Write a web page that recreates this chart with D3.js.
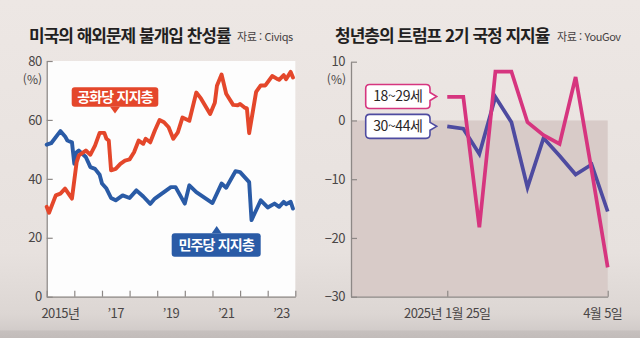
<!DOCTYPE html>
<html lang="ko">
<head>
<meta charset="utf-8">
<script src="https://cdn.jsdelivr.net/npm/d3@7"></script>
<style>
  html, body { margin: 0; padding: 0; background: #ebe5e2; }
  svg { display: block; }
  text { font-family: "Noto Sans CJK KR", "Noto Sans", sans-serif; }
</style>
</head>
<body>
<svg id="chart" width="640" height="338"></svg>
<script>
// ---- Left panel: support for non-intervention in foreign affairs (Civiqs) ----
const gopMonths = ["2015-01","2015-02","2015-05","2015-07","2015-09","2015-11","2015-12","2016-02","2016-03","2016-06",
  "2016-08","2016-10","2016-12","2017-02","2017-03","2017-04","2017-05","2017-07","2017-09","2017-11",
  "2018-01","2018-03","2018-05","2018-07","2018-08","2018-10","2018-12","2019-02","2019-04","2019-06",
  "2019-08","2019-10","2019-12","2020-03","2020-06","2020-08","2020-12","2021-02","2021-03","2021-05",
  "2021-07","2021-10","2021-12","2022-01","2022-03","2022-04","2022-05","2022-08","2022-10","2022-12",
  "2023-03","2023-05","2023-06","2023-08","2023-09","2023-11","2023-12"];
const gopValues = [30.5,28.5,34.4,35,36.7,34.4,33.3,45.7,48,49.6,
  48.2,51.3,55.6,55.6,53.6,53,42.9,43.4,45.1,46.2,
  46.6,49,53,51.9,53.6,52.4,56.4,60,59.2,57.5,
  53.6,55.8,60.8,59.7,69.3,67.3,62,65.8,71.6,75.4,
  68.9,65.1,65,65.4,64.2,63.9,55.5,69.5,71.7,71.7,
  74.9,74,73.6,75.2,73.8,76.3,74.4];

const demMonths = ["2015-01","2015-03","2015-07","2015-09","2015-10","2015-12","2016-01","2016-02","2016-03","2016-06",
  "2016-08","2016-10","2016-12","2017-01","2017-03","2017-05","2017-07","2017-10","2018-01","2018-04",
  "2018-07","2018-10","2018-12","2019-07","2019-09","2020-01","2020-03","2020-06","2021-01","2021-05",
  "2021-07","2021-11","2022-01","2022-05","2022-06","2022-10","2023-01","2023-04","2023-06","2023-08",
  "2023-09","2023-11","2023-12"];
const demValues = [51.6,52.1,56.2,54.4,53,52.4,45.1,49,49.6,47.4,
  44,43.4,41.4,38.4,36.7,33.5,32.7,34.4,33.5,36.1,
  34,31.5,33.3,37.2,37.2,31.6,37.8,35.5,31.8,38.4,
  37,42.6,42.3,38.9,26,32.7,30.3,31.6,30.5,32.2,
  31.4,32.2,29.9];

const leftTicksY = [0, 20, 40, 60, 80];
const leftYears = [2015, 2016, 2017, 2018, 2019, 2020, 2021, 2022, 2023, 2024];
const leftYearLabels = [[2015, "2015년"], [2017, "’17"], [2019, "’19"], [2021, "’21"], [2023, "’23"]];

// ---- Right panel: young adults' net approval of Trump's second term (YouGov) ----
const pollDates = ["2025-01-25","2025-02-01","2025-02-08","2025-02-15","2025-02-22","2025-03-01",
  "2025-03-08","2025-03-15","2025-03-22","2025-03-29","2025-04-05"];
const age18to29 = [4, 4, -18.2, 8.3, 8.3, -0.3, -2.5, -4, 7.4, -8.5, -25];
const age30to44 = [-1, -1.4, -5.7, 4, -0.3, -11.4, -3, -6, -9.2, -7.5, -15.5];
const rightTicksY = [10, 0, -10, -20, -30];
const rightTickDates = [["2025-01-25", "2025년 1월 25일"], ["2025-04-05", "4월 5일"]];

const C = {
  gop: "#e4472b", dem: "#2a5ba6",
  young: "#d6357f", mid: "#4e4ba0",
  axis: "#8d8886", tick: "#4a4646", title: "#231f1f"
};

const svg = d3.select("#chart");
const W = 640, H = 338;

// page background with a slightly darker bottom band
const defs = svg.append("defs");
const bg = defs.append("linearGradient").attr("id", "bg").attr("x1", 0).attr("y1", 0).attr("x2", 0).attr("y2", 1);
[[0, "#ede7e4"], [0.75, "#e7e1de"], [0.93, "#dcd6d3"], [0.975, "#d2ccca"], [0.98, "#c6c0be"], [1, "#c2bcba"]]
  .forEach(([o, c]) => bg.append("stop").attr("offset", o).attr("stop-color", c));
svg.append("rect").attr("width", W).attr("height", H).attr("fill", "url(#bg)");

const parseMonth = d3.timeParse("%Y-%m");
const parseDay = d3.timeParse("%Y-%m-%d");

// ================= left panel =================
const xL = d3.scaleTime().domain([new Date(2015, 0, 1), new Date(2024, 0, 1)]).range([46.7, 295.3]);
const yL = d3.scaleLinear().domain([0, 80]).range([296.7, 61]);

svg.append("rect")
  .attr("x", xL.range()[0]).attr("y", yL(80))
  .attr("width", xL.range()[1] - xL.range()[0]).attr("height", yL(0) - yL(80))
  .attr("fill", "#fdfdfd");

const axL = svg.append("g").attr("transform", `translate(${xL.range()[0]},0)`)
  .call(d3.axisLeft(yL).tickValues(leftTicksY).tickSize(-6).tickSizeOuter(0).tickPadding(5));
const axB = svg.append("g").attr("transform", `translate(0,${yL(0)})`)
  .call(d3.axisBottom(xL).tickValues(leftYears.map(y => new Date(y, 0, 1))).tickSize(-6).tickSizeOuter(0).tickFormat(""));

svg.selectAll(".lyl").data(leftYearLabels).join("text")
  .attr("x", d => xL(new Date(d[0], 6, 1)))
  .attr("y", 318)
  .attr("text-anchor", "middle")
  .attr("font-size", 13).attr("letter-spacing", -0.6)
  .attr("fill", C.tick)
  .text(d => d[1]);

svg.append("text").attr("x", 42).attr("y", 84).attr("text-anchor", "end")
  .attr("font-size", 12).attr("fill", C.tick).text("(%)");

const lineL = d3.line().x(d => xL(d.t)).y(d => yL(d.v)).curve(d3.curveLinear);
const gopSeries = gopMonths.map((m, i) => ({ t: parseMonth(m), v: gopValues[i] }));
const demSeries = demMonths.map((m, i) => ({ t: parseMonth(m), v: demValues[i] }));

svg.append("path").datum(demSeries).attr("d", lineL)
  .attr("fill", "none").attr("stroke", C.dem).attr("stroke-width", 3.9)
  .attr("stroke-linejoin", "round").attr("stroke-linecap", "round");
svg.append("path").datum(gopSeries).attr("d", lineL)
  .attr("fill", "none").attr("stroke", C.gop).attr("stroke-width", 3.9)
  .attr("stroke-linejoin", "round").attr("stroke-linecap", "round");

// series call-outs
function calloutBox(x0, x1, y0, y1, tipX, tipY, pointer, fill, label) {
  const g = svg.append("g");
  g.append("rect").attr("x", x0).attr("y", y0).attr("width", x1 - x0).attr("height", y1 - y0)
    .attr("rx", 3).attr("fill", fill);
  const baseY = pointer === "down" ? y1 : y0;
  g.append("path").attr("d", `M${tipX - 5},${baseY} L${tipX},${tipY} L${tipX + 5},${baseY} Z`).attr("fill", fill);
  g.append("text").attr("x", (x0 + x1) / 2).attr("y", (y0 + y1) / 2 + 5)
    .attr("text-anchor", "middle").attr("font-size", 14).attr("font-weight", 700)
    .attr("letter-spacing", -0.8).attr("fill", "#ffffff").text(label);
}
calloutBox(71.7, 158.3, 87.3, 106.7, 115, 113.5, "down", C.gop, "공화당 지지층");
calloutBox(171.7, 260.7, 233.3, 256.7, 216.7, 226, "up", C.dem, "민주당 지지층");

// ================= right panel =================
const xR = d3.scaleTime().domain([new Date(2024, 11, 14), new Date(2025, 3, 5)]).range([351, 607.7]);
const yR = d3.scaleLinear().domain([-30, 10]).range([296.7, 61.7]);

svg.append("rect")
  .attr("x", xR.range()[0]).attr("y", yR(0))
  .attr("width", xR.range()[1] - xR.range()[0]).attr("height", yR(-30) - yR(0))
  .attr("fill", "#d8cbc8");

const axR = svg.append("g").attr("transform", `translate(${xR.range()[0]},0)`)
  .call(d3.axisLeft(yR).tickValues(rightTicksY).tickSize(-6).tickSizeOuter(0).tickPadding(6)
    .tickFormat(d => d < 0 ? "−" + Math.abs(d) : String(d)));
const axRB = svg.append("g").attr("transform", `translate(0,${yR(-30)})`)
  .call(d3.axisBottom(xR).tickValues(rightTickDates.map(d => parseDay(d[0]))).tickSize(-6).tickSizeOuter(0).tickFormat(""));

svg.selectAll(".rxl").data(rightTickDates).join("text")
  .attr("x", d => xR(parseDay(d[0])) - (d[1].length < 6 ? 5 : 0))
  .attr("y", 318)
  .attr("text-anchor", "middle")
  .attr("font-size", 13).attr("letter-spacing", -0.6)
  .attr("fill", C.tick)
  .text(d => d[1]);

svg.append("text").attr("x", 346).attr("y", 84).attr("text-anchor", "end")
  .attr("font-size", 12).attr("fill", C.tick).text("(%)");

// axis styling shared by both panels
[axL, axB, axR, axRB].forEach(g => {
  g.select(".domain").attr("stroke", C.axis).attr("stroke-width", 1.3);
  g.selectAll(".tick line").attr("stroke", C.axis).attr("stroke-width", 1.2);
  g.selectAll(".tick text").attr("font-size", 13).attr("letter-spacing", -0.5)
    .attr("fill", C.tick).attr("font-family", '"Noto Sans CJK KR", sans-serif');
});

const lineR = d3.line().x(d => xR(d.t)).y(d => yR(d.v));
const youngSeries = pollDates.map((d, i) => ({ t: parseDay(d), v: age18to29[i] }));
const midSeries = pollDates.map((d, i) => ({ t: parseDay(d), v: age30to44[i] }));

svg.append("path").datum(midSeries).attr("d", lineR)
  .attr("fill", "none").attr("stroke", C.mid).attr("stroke-width", 3.7)
  .attr("stroke-linejoin", "miter").attr("stroke-linecap", "butt");
svg.append("path").datum(youngSeries).attr("d", lineR)
  .attr("fill", "none").attr("stroke", C.young).attr("stroke-width", 3.7)
  .attr("stroke-linejoin", "miter").attr("stroke-linecap", "butt");

// age-group tags pointing at each line's first poll
function tag(cy, color, label) {
  const x0 = 365.7, x1 = 430, h = 24, r = 4, tip = 436.7;
  const y0 = cy - h / 2, y1 = cy + h / 2;
  const d = `M${x0 + r},${y0} H${x1 - r} Q${x1},${y0} ${x1},${y0 + r} V${cy - 4} L${tip},${cy} L${x1},${cy + 4}` +
    ` V${y1 - r} Q${x1},${y1} ${x1 - r},${y1} H${x0 + r} Q${x0},${y1} ${x0},${y1 - r} V${y0 + r} Q${x0},${y0} ${x0 + r},${y0} Z`;
  svg.append("path").attr("d", d).attr("fill", "#ffffff").attr("stroke", color).attr("stroke-width", 1.6);
  svg.append("text").attr("x", (x0 + x1) / 2).attr("y", cy + 5)
    .attr("text-anchor", "middle").attr("font-size", 14).attr("letter-spacing", -0.4)
    .attr("fill", "#2a2626").text(label);
}
tag(yR(age18to29[0]) - 0.5, C.young, "18~29세");
tag(yR(age30to44[0]), C.mid, "30~44세");

// ================= titles =================
svg.append("text").attr("x", 29).attr("y", 42).attr("font-size", 17).attr("font-weight", 700)
  .attr("letter-spacing", -1).attr("fill", C.title).text("미국의 해외문제 불개입 찬성률");
svg.append("text").attr("x", 237).attr("y", 41).attr("font-size", 11).attr("letter-spacing", -0.4)
  .attr("fill", "#464242").text("자료 : Civiqs");
svg.append("text").attr("x", 335).attr("y", 42).attr("font-size", 17).attr("font-weight", 700)
  .attr("letter-spacing", -1).attr("fill", C.title).text("청년층의 트럼프 2기 국정 지지율");
svg.append("text").attr("x", 557).attr("y", 41).attr("font-size", 11).attr("letter-spacing", -0.4)
  .attr("fill", "#464242").text("자료 : YouGov");
</script>
</body>
</html>
